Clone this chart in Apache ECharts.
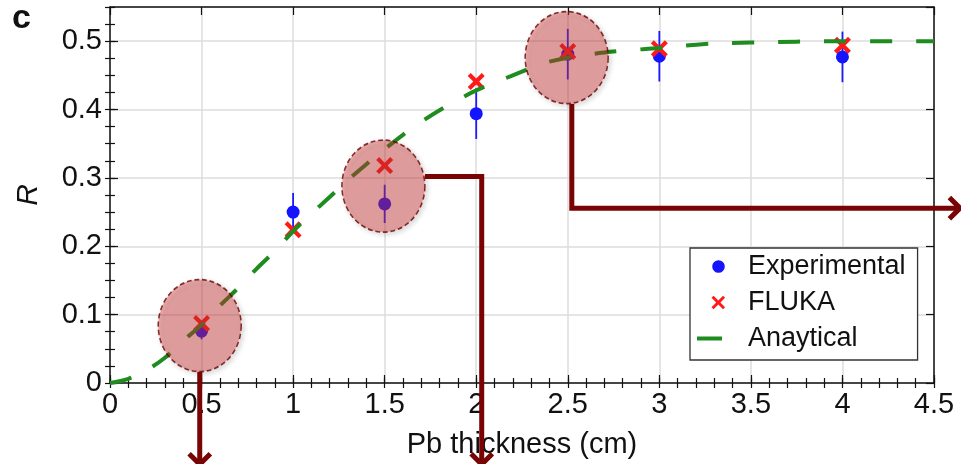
<!DOCTYPE html>
<html><head><meta charset="utf-8">
<script src="https://cdn.jsdelivr.net/npm/echarts@6/dist/echarts.min.js"></script>
<style>html,body{margin:0;padding:0;background:#fff}#c{width:961px;height:464px}</style>
</head><body><div id="c"></div>
<script>
// ---- data ----
const thickness = [0.5, 1, 1.5, 2, 2.5, 3, 4];
const experimentalR = [0.076, 0.250, 0.262, 0.394, 0.481, 0.478, 0.477];
const experimentalErr = [0.012, 0.028, 0.028, 0.037, 0.037, 0.037, 0.037];
const flukaR = [0.087, 0.224, 0.318, 0.441, 0.485, 0.489, 0.494];
const analyticX = [0, 0.1, 0.2, 0.3, 0.4, 0.5, 0.6, 0.7, 0.8, 0.9, 1.0, 1.1, 1.2, 1.3, 1.4, 1.5, 1.6, 1.7, 1.8, 1.9, 2.0, 2.2, 2.4, 2.6, 2.8, 3.0, 3.25, 3.5, 4.0, 4.5];
const analyticY = [0, 0.006, 0.019, 0.037, 0.062, 0.085, 0.113, 0.139, 0.167, 0.193, 0.222, 0.248, 0.272, 0.297, 0.320, 0.342, 0.363, 0.382, 0.399, 0.414, 0.428, 0.450, 0.470, 0.480, 0.486, 0.490, 0.496, 0.498, 0.500, 0.500];
const xTickLabels = ['0', '0.5', '1', '1.5', '2', '2.5', '3', '3.5', '4', '4.5'];
const yTickLabels = ['0', '0.1', '0.2', '0.3', '0.4', '0.5'];
// highlighted regions (centres in data units)
const highlightX = [0.49, 1.493, 2.494];
const highlightY = [0.084, 0.288, 0.476];
// annotation arrows (paths in data units)
const arrowPaths = [
  [[0.49, 0.0165], [0.49, -0.119]],
  [[1.72, 0.302], [2.03, 0.302], [2.03, -0.119]],
  [[2.522, 0.4085], [2.522, 0.2558], [4.642, 0.2558]]
];

// ---- styling helpers ----
const FONT = 'Liberation Sans, Arial, Helvetica, sans-serif';
const INK = '#111';
function xPath(cx, cy, h, d) {
  const p = [[cx-h+d, cy-h],[cx, cy-d],[cx+h-d, cy-h],[cx+h, cy-h+d],[cx+d, cy],[cx+h, cy+h-d],[cx+h-d, cy+h],[cx, cy+d],[cx-h+d, cy+h],[cx-h, cy+h-d],[cx-d, cy],[cx-h, cy-h+d]];
  return 'M' + p.map(q => q[0].toFixed(2) + ',' + q[1].toFixed(2)).join('L') + 'Z';
}
const BOX = 'M0,0L0.01,0L0,0.01Z M48,14L47.99,14L48,13.99Z ';
const legendCircle = 'path://' + BOX + 'M17.2,7A6.3,6.3 0 1 0 29.8,7A6.3,6.3 0 1 0 17.2,7Z';
const legendX = 'path://' + BOX + xPath(23.3, 7, 6.8, 2.1);
const legendLine = 'path://' + BOX + 'M2,5H27V9H2Z';
const seriesX = 'path://' + xPath(5, 5, 5, 1.75);

function mainX(pos, labels) {
  return {
    type: 'value', position: pos, min: 0, max: 4.5, interval: 0.5,
    axisLine: { show: true, onZero: false, lineStyle: { color: INK, width: 1.5 } },
    axisTick: { show: true, inside: true, length: 8, lineStyle: { color: INK, width: 1.2 } },
    axisLabel: labels ? { show: true, fontSize: 29, color: INK, margin: 7, fontFamily: FONT,
      formatter: v => xTickLabels[Math.round(v / 0.5)] } : { show: false },
    splitLine: { show: labels, lineStyle: { color: '#dcdcdc', width: 1.5 } }
  };
}
function minorX(pos) {
  return {
    type: 'value', position: pos, min: 0, max: 4.5, interval: 0.1,
    axisLine: { show: false }, axisLabel: { show: false }, splitLine: { show: false },
    axisTick: { show: true, inside: true, length: 5, lineStyle: { color: INK, width: 1.2 } }
  };
}
function mainY(pos, labels) {
  return {
    type: 'value', position: pos, min: 0, max: 0.55, interval: 0.1,
    axisLine: { show: true, onZero: false, lineStyle: { color: INK, width: 1.5 } },
    axisTick: { show: true, inside: true, length: 8, lineStyle: { color: INK, width: 1.2 } },
    axisLabel: labels ? { show: true, fontSize: 29, color: INK, margin: 8, fontFamily: FONT, showMaxLabel: false,
      formatter: v => { const i = Math.round(v / 0.1); return Math.abs(v - i * 0.1) < 1e-6 ? yTickLabels[i] : ''; } } : { show: false },
    splitLine: { show: labels, lineStyle: { color: '#dcdcdc', width: 1.5 } }
  };
}
function minorY(pos) {
  return {
    type: 'value', position: pos, min: 0, max: 0.55, interval: 0.025,
    axisLine: { show: false }, axisLabel: { show: false }, splitLine: { show: false },
    axisTick: { show: true, inside: true, length: 5, lineStyle: { color: INK, width: 1.2 } }
  };
}

const xAxes = [mainX('bottom', true), minorX('bottom'), mainX('top', false), minorX('top')];
Object.assign(xAxes[0], { name: 'Pb thickness (cm)', nameLocation: 'middle', nameGap: 47, nameMoveOverlap: false,
  nameTextStyle: { fontSize: 29, color: INK, fontFamily: FONT } });
const yAxes = [mainY('left', true), minorY('left'), mainY('right', false), minorY('right')];
Object.assign(yAxes[0], { name: 'R', nameLocation: 'middle', nameGap: 66, nameRotate: 90, nameMoveOverlap: false,
  nameTextStyle: { fontSize: 30, fontStyle: 'italic', color: INK, fontFamily: FONT } });

const chart = echarts.init(document.getElementById('c'), null, { renderer: 'canvas' });
chart.setOption({
  animation: false,
  backgroundColor: '#fff',
  textStyle: { fontFamily: FONT },
  title: { text: 'c', left: 7, top: -3, textStyle: { fontSize: 34, fontWeight: 'bold', color: INK, fontFamily: FONT } },
  grid: { left: 110, right: 27, top: 7, bottom: 81, containLabel: false, outerBoundsMode: 'none' },
  xAxis: xAxes,
  yAxis: yAxes,
  legend: {
    orient: 'vertical', left: 690, top: 248,
    data: [
      { name: 'Experimental', icon: legendCircle },
      { name: 'FLUKA', icon: legendX },
      { name: 'Anaytical', icon: legendLine }
    ],
    itemWidth: 48, itemHeight: 14, itemGap: 9,
    itemStyle: { borderWidth: 0 },
    textStyle: { fontSize: 27, color: INK, fontFamily: FONT },
    backgroundColor: '#fff', borderColor: '#333', borderWidth: 1.3,
    padding: [5, 12, 8, 5], selectedMode: false
  },
  series: [
    {
      type: 'custom', name: 'Experimental error', z: 2, silent: true,
      data: thickness.map((x, i) => [x, experimentalR[i] - experimentalErr[i], experimentalR[i] + experimentalErr[i]]),
      encode: { x: 0, y: [1, 2] },
      renderItem: (params, api) => {
        const lo = api.coord([api.value(0), api.value(1)]);
        const hi = api.coord([api.value(0), api.value(2)]);
        return { type: 'line', shape: { x1: lo[0], y1: lo[1], x2: hi[0], y2: hi[1] },
          style: { stroke: '#1a1aff', lineWidth: 1.8 } };
      }
    },
    {
      type: 'scatter', name: 'Experimental', z: 3, silent: true,
      data: thickness.map((x, i) => [x, experimentalR[i]]),
      symbol: 'circle', symbolSize: 13,
      itemStyle: { color: '#1414ff', opacity: 1 }
    },
    {
      type: 'scatter', name: 'FLUKA', z: 4, silent: true,
      data: thickness.map((x, i) => [x, flukaR[i]]),
      symbol: seriesX, symbolSize: 17,
      itemStyle: { color: '#ff1a1a', opacity: 1 }
    },
    {
      type: 'line', name: 'Anaytical', z: 5, silent: true, clip: false,
      data: analyticX.map((x, i) => [x, analyticY[i]]),
      smooth: 0.35, symbol: 'none', color: '#1e8c1e',
      itemStyle: { color: '#1e8c1e' },
      lineStyle: { color: '#1e8c1e', width: 4, type: [22, 24], cap: 'butt' }
    },
    {
      type: 'scatter', name: 'highlight', z: 8, silent: true,
      data: highlightX.map((x, i) => [x, highlightY[i]]),
      symbol: 'circle', symbolSize: [83, 92],
      itemStyle: { color: 'rgba(218,52,52,0.5)', borderColor: '#6e0000', borderWidth: 1.6, borderType: [5, 3],
        shadowBlur: 5, shadowColor: 'rgba(0,0,0,0.3)', shadowOffsetX: 2, shadowOffsetY: 2 },
      emphasis: { disabled: true }
    },
    {
      type: 'custom', name: 'arrows', z: 10, silent: true, clip: false,
      data: arrowPaths.map((p, i) => [p[0][0], p[0][1], i]),
      renderItem: (params, api) => {
        const pts = arrowPaths[params.dataIndex].map(pt => api.coord(pt));
        const n = pts.length, tip = pts[n - 1], prev = pts[n - 2];
        const ang = Math.atan2(tip[1] - prev[1], tip[0] - prev[0]);
        const L = 15, a = Math.PI * 0.25;
        const p1 = [tip[0] - L * Math.cos(ang - a), tip[1] - L * Math.sin(ang - a)];
        const p2 = [tip[0] - L * Math.cos(ang + a), tip[1] - L * Math.sin(ang + a)];
        const st = { stroke: '#780404', lineWidth: 5, fill: 'none', lineJoin: 'miter' };
        return { type: 'group', children: [
          { type: 'polyline', shape: { points: pts }, style: st },
          { type: 'polyline', shape: { points: [p1, tip, p2] }, style: st }
        ] };
      }
    }
  ]
});
</script>
</body></html>
